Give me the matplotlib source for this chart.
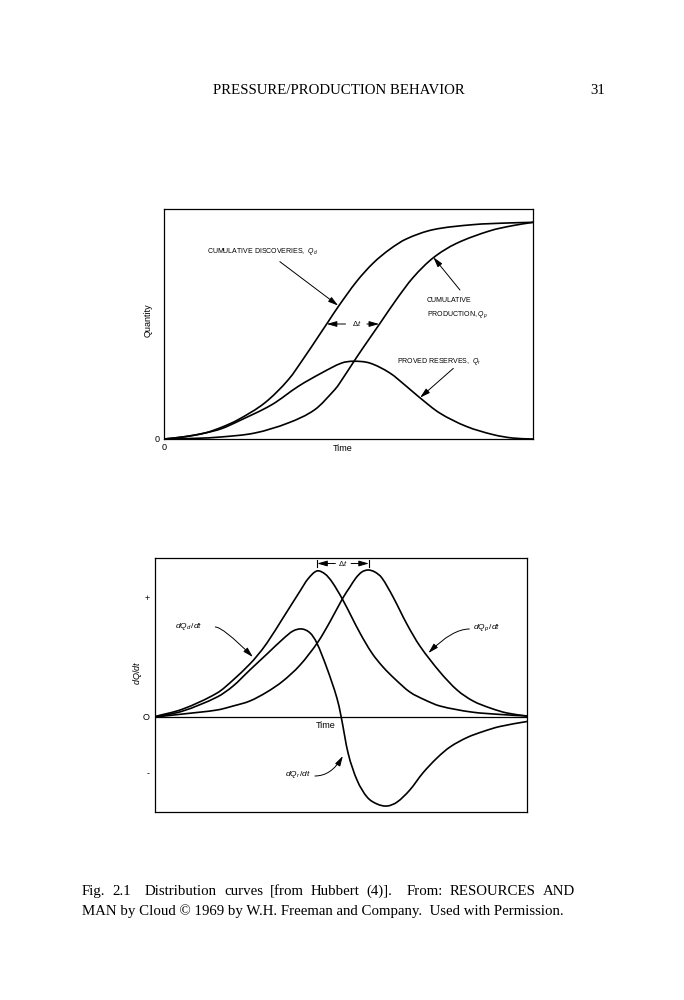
import matplotlib
matplotlib.use('Agg')
import matplotlib.pyplot as plt
from matplotlib.path import Path
from matplotlib.patches import PathPatch

plt.rcParams['font.family'] = ['Liberation Sans', 'DejaVu Sans']
plt.rcParams['mathtext.fontset'] = 'custom'
plt.rcParams['mathtext.it'] = 'Liberation Sans:italic'
plt.rcParams['mathtext.rm'] = 'Liberation Sans'
plt.rcParams['mathtext.sf'] = 'Liberation Sans'

# ---------------- top panel: cumulative quantities (time 0..10, quantity 0..1) ----------
qd_t = [0, 0.52, 1.11, 1.56, 2.01, 2.73, 3.37, 3.82, 4.18, 4.45, 4.72, 5.22, 5.67, 6.12, 6.57, 7.29, 8.38, 9.28, 10]
qd_v = [0, 0.009, 0.026, 0.051, 0.084, 0.157, 0.258, 0.359, 0.445, 0.510, 0.575, 0.685, 0.765, 0.825, 0.870, 0.910, 0.932, 0.939, 0.942]

qp_t = [0, 0.88, 1.56, 2.46, 3.37, 4.09, 4.63, 4.77, 5.22, 5.53, 5.85, 6.30, 6.75, 7.29, 7.92, 8.83, 9.46, 10]
qp_v = [0, 0.003, 0.009, 0.026, 0.070, 0.128, 0.215, 0.245, 0.355, 0.428, 0.502, 0.607, 0.702, 0.787, 0.850, 0.905, 0.928, 0.942]

qr_t = [0, 0.52, 1.11, 1.56, 2.01, 2.92, 3.64, 4.27, 4.81, 5.13, 5.58, 6.12, 6.57, 6.93, 7.47, 8.19, 8.92, 9.46, 10]
qr_v = [0, 0.009, 0.026, 0.045, 0.077, 0.149, 0.229, 0.287, 0.330, 0.338, 0.330, 0.287, 0.229, 0.180, 0.113, 0.055, 0.019, 0.004, 0]

# ---------------- bottom panel: rates (time 0..10) ----------------
dqd_t = [0, 0.75, 1.67, 2.10, 2.55, 2.74, 3.01, 3.44, 3.90, 4.11, 4.35, 4.57, 4.76, 5.05, 5.51, 5.83, 6.13, 6.45, 6.85, 7.26, 7.66, 8.50, 9.30, 10]
dqd_v = [0.005, 0.08, 0.24, 0.37, 0.53, 0.61, 0.74, 0.99, 1.26, 1.38, 1.46, 1.43, 1.35, 1.17, 0.84, 0.64, 0.50, 0.38, 0.25, 0.17, 0.11, 0.05, 0.025, 0.01]

dqp_t = [0, 0.75, 1.67, 2.10, 2.55, 3.01, 3.44, 3.90, 4.38, 4.70, 5.05, 5.24, 5.40, 5.56, 5.73, 5.91, 6.10, 6.40, 6.77, 7.12, 7.66, 8.12, 8.55, 9.01, 9.46, 10]
dqp_v = [0, 0.03, 0.07, 0.11, 0.16, 0.25, 0.36, 0.52, 0.75, 0.95, 1.19, 1.30, 1.39, 1.45, 1.47, 1.45, 1.39, 1.20, 0.93, 0.71, 0.45, 0.27, 0.16, 0.09, 0.04, 0.01]

dqr_t = [0, 0.75, 1.67, 2.10, 2.55, 3.01, 3.44, 3.71, 3.95, 4.17, 4.35, 4.62, 4.89, 5.00, 5.19, 5.43, 5.70, 5.97, 6.24, 6.51, 6.85, 7.20, 7.58, 7.93, 8.39, 8.82, 9.27, 10]
dqr_v = [0, 0.06, 0.20, 0.31, 0.47, 0.63, 0.78, 0.86, 0.88, 0.84, 0.74, 0.49, 0.19, 0.01, -0.36, -0.63, -0.80, -0.87, -0.89, -0.85, -0.73, -0.56, -0.41, -0.30, -0.205, -0.145, -0.095, -0.045]

caption_line1 = ['Fig.', '2.1', 'Distribution', 'curves', '[from', 'Hubbert', '(4)].', 'From:', 'RESOURCES', 'AND']
caption_gapw = [1, 2, 1, 1, 1, 1, 2, 1, 1]
caption_line2 = 'MAN by Cloud \u00a9 1969 by W.H. Freeman and Company.  Used with Permission.'

LW = 1.2
ANN = 5.0
AP = dict(arrowstyle='-|>,head_length=0.6,head_width=0.17', color='k', lw=0.7,
          shrinkA=0, shrinkB=0, mutation_scale=10)


def smooth_line(ax, xs, ys, **kw):
    """Draw a smooth curve through the read points (cubic Hermite Bezier segments)."""
    n = len(xs)
    m = []
    for i in range(n):
        if i == 0:
            m.append((ys[1] - ys[0]) / (xs[1] - xs[0]))
        elif i == n - 1:
            m.append((ys[-1] - ys[-2]) / (xs[-1] - xs[-2]))
        else:
            m.append((ys[i + 1] - ys[i - 1]) / (xs[i + 1] - xs[i - 1]))
    verts = [(xs[0], ys[0])]
    codes = [Path.MOVETO]
    for i in range(n - 1):
        h = xs[i + 1] - xs[i]
        verts += [(xs[i] + h / 3, ys[i] + m[i] * h / 3),
                  (xs[i + 1] - h / 3, ys[i + 1] - m[i + 1] * h / 3),
                  (xs[i + 1], ys[i + 1])]
        codes += [Path.CURVE4] * 3
    ax.add_patch(PathPatch(Path(verts, codes), fill=False, capstyle='round',
                           joinstyle='round', **kw))


fig = plt.figure(figsize=(6.84, 10), dpi=100)
fig.patch.set_facecolor('white')

# ---------------- top axes ----------------
ax1 = fig.add_axes([164/684, 1 - 439/1000, 369/684, 230/1000])
for t, v in ((qd_t, qd_v), (qp_t, qp_v), (qr_t, qr_v)):
    smooth_line(ax1, t, v, edgecolor='k', lw=LW)
ax1.set_xlim(0, 10)
ax1.set_ylim(0, 1)
ax1.set_xticks([0]); ax1.set_xticklabels(['0'])
ax1.set_yticks([0]); ax1.set_yticklabels(['0'])
ax1.tick_params(length=0, labelsize=6.5, pad=3)
for s in ax1.spines.values():
    s.set_linewidth(0.9)
ax1.text(4.85, -0.04, 'Time', fontsize=6.5, ha='center', va='center',
         transform=ax1.get_xaxis_transform())
ax1.text(-0.043, 0.517, 'Quantity', fontsize=6.5, rotation=90, ha='center', va='center',
         transform=ax1.transAxes)

ax1.text(1.16, 0.814, 'CUMULATIVE DISCOVERIES,  $Q_d$', fontsize=ANN, ha='left', va='center')
ax1.annotate('', xy=(4.72, 0.58), xytext=(3.14, 0.771), arrowprops=AP)
ax1.text(7.12, 0.604, 'CUMULATIVE', fontsize=ANN, ha='left', va='center')
ax1.text(7.12, 0.539, 'PRODUCTION, $Q_p$', fontsize=ANN, ha='left', va='center')
ax1.annotate('', xy=(7.30, 0.790), xytext=(8.02, 0.648), arrowprops=AP)
ax1.text(5.22, 0.50, r'$\Delta t$', fontsize=ANN + 0.5, ha='center', va='center')
ax1.annotate('', xy=(4.41, 0.50), xytext=(4.92, 0.50), arrowprops=AP)
ax1.annotate('', xy=(5.83, 0.50), xytext=(5.50, 0.50), arrowprops=AP)
ax1.text(6.31, 0.336, 'PROVED RESERVES,  $Q_r$', fontsize=ANN, ha='left', va='center')
ax1.annotate('', xy=(6.94, 0.180), xytext=(7.84, 0.307), arrowprops=AP)

# ---------------- bottom axes ----------------
ax2 = fig.add_axes([155/684, 1 - 812/1000, 372/684, 254/1000])
for t, v in ((dqd_t, dqd_v), (dqp_t, dqp_v), (dqr_t, dqr_v)):
    smooth_line(ax2, t, v, edgecolor='k', lw=LW)
ax2.axhline(0, color='k', lw=0.9)
ax2.set_xlim(0, 10)
ax2.set_ylim(-0.95, 1.59)
ax2.set_xticks([])
ax2.set_yticks([1.20, 0, -0.56]); ax2.set_yticklabels(['+', 'O', '-'])
ax2.tick_params(length=0, labelsize=6.5, pad=4)
for s in ax2.spines.values():
    s.set_linewidth(0.9)
ax2.text(4.60, -0.09, 'Time', fontsize=6.5, ha='center', va='center')
ax2.text(-0.046, 0.547, '$dQ/dt$', fontsize=6.5, rotation=90, ha='center', va='center',
         transform=ax2.transAxes)

ax2.text(0.54, 0.90, '$dQ_d\\,/dt$', fontsize=6, ha='left', va='center')
ax2.annotate('', xy=(2.63, 0.60), xytext=(1.62, 0.90),
             arrowprops=dict(AP, connectionstyle='angle3,angleA=0,angleB=-45'))
ax2.text(8.55, 0.89, '$dQ_p\\,/dt$', fontsize=6, ha='left', va='center')
ax2.annotate('', xy=(7.35, 0.64), xytext=(8.45, 0.88),
             arrowprops=dict(AP, connectionstyle='angle3,angleA=0,angleB=45'))
ax2.text(4.19, -0.57, '$dQ_r\\,/dt$', fontsize=6, ha='right', va='center')
ax2.annotate('', xy=(5.05, -0.39), xytext=(4.30, -0.59),
             arrowprops=dict(AP, connectionstyle='angle3,angleA=0,angleB=60'))
# delta-t bracket
ax2.plot([4.35, 4.35], [1.50, 1.57], color='k', lw=0.8)
ax2.plot([5.76, 5.76], [1.50, 1.57], color='k', lw=0.8)
ax2.text(5.05, 1.535, r'$\Delta t$', fontsize=ANN + 0.5, ha='center', va='center')
ax2.annotate('', xy=(4.36, 1.535), xytext=(4.85, 1.535), arrowprops=AP)
ax2.annotate('', xy=(5.75, 1.535), xytext=(5.27, 1.535), arrowprops=AP)

# ---------------- page text ----------------
serif = ['Liberation Serif', 'DejaVu Serif']
fig.text(213/684, 1 - 91/1000, 'PRESSURE/PRODUCTION BEHAVIOR', family=serif,
         fontsize=10.7, ha='left', va='center')
fig.text(590/684, 1 - 91/1000, '31', family=serif, fontsize=10.7, ha='left', va='center')

# justified first caption line
CAP = 10.7
x_left, x_right = 81.7, 575.0
base1, base2 = 895, 915
renderer = fig.canvas.get_renderer()
words = [fig.text(0, 1 - base1/1000, w, family=serif, fontsize=CAP, ha='left', va='baseline')
         for w in caption_line1]
widths = [w.get_window_extent(renderer=renderer).width for w in words]
unit = (x_right - x_left - sum(widths)) / sum(caption_gapw)
xpos = x_left
for i, w in enumerate(words):
    w.set_x(xpos / 684)
    if i < len(caption_gapw):
        xpos += widths[i] + unit * caption_gapw[i]
fig.text(x_left/684, 1 - base2/1000, caption_line2, family=serif, fontsize=CAP,
         ha='left', va='baseline')

fig.savefig('out.png', dpi=100, facecolor='white')
